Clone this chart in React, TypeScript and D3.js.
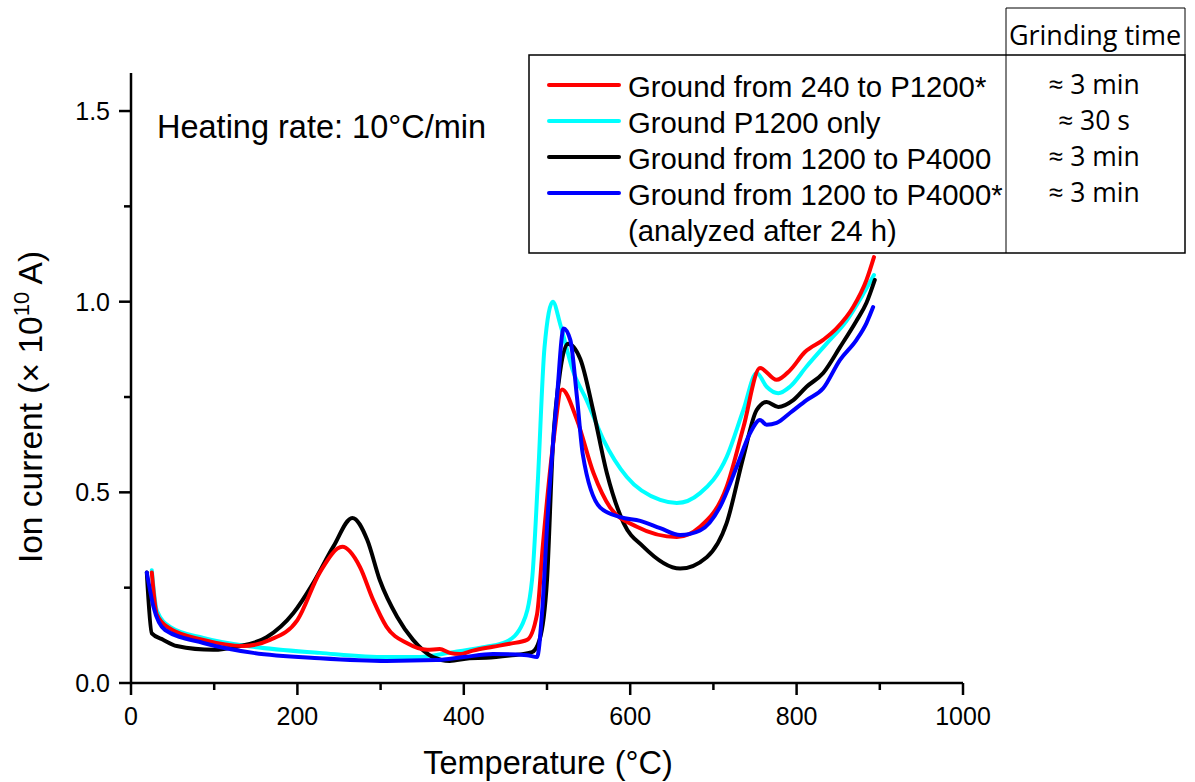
import React from "react";
import * as d3 from "d3";

type P = [number, number];

const redData: P[] = [
  [25, 0.29], [31, 0.18], [45, 0.145], [87, 0.113], [135, 0.097], [167, 0.113], [200, 0.165],
  [227, 0.29], [254, 0.357], [275, 0.305], [291, 0.218], [307, 0.148], [332, 0.104], [356, 0.087],
  [371, 0.089], [383, 0.079], [395, 0.076], [411, 0.085], [435, 0.095], [455, 0.103], [476, 0.113], [488, 0.18],
  [495, 0.36], [507, 0.62], [518, 0.77], [536, 0.69], [556, 0.55], [576, 0.46], [608, 0.41],
  [656, 0.383], [684, 0.41], [716, 0.515], [736, 0.67], [756, 0.826], [776, 0.795], [792, 0.82],
  [810, 0.868], [832, 0.9], [848, 0.93], [868, 0.986], [884, 1.057], [893, 1.117],
];

const cyanData: P[] = [
  [25, 0.296], [31, 0.19], [47, 0.147], [87, 0.118], [147, 0.095], [227, 0.079], [307, 0.068],
  [347, 0.068], [387, 0.081], [427, 0.095], [451, 0.108], [471, 0.157], [482, 0.27], [489, 0.53],
  [497, 0.88], [507, 1.0], [516, 0.94], [531, 0.82], [548, 0.74], [568, 0.637], [596, 0.54],
  [636, 0.48], [656, 0.472], [684, 0.498], [716, 0.593], [736, 0.716], [752, 0.813], [764, 0.777],
  [778, 0.76], [792, 0.777], [812, 0.83], [836, 0.89], [860, 0.95], [880, 1.02], [893, 1.07],
];

const blackData: P[] = [
  [19, 0.29], [25, 0.13], [39, 0.113], [55, 0.097], [99, 0.087], [127, 0.095], [163, 0.12],
  [195, 0.183], [219, 0.262], [243, 0.357], [266, 0.433], [284, 0.375], [299, 0.27], [320, 0.173],
  [339, 0.113], [363, 0.068], [383, 0.058], [407, 0.065], [427, 0.066], [455, 0.072], [482, 0.081], [491, 0.113],
  [500, 0.27], [507, 0.62], [516, 0.82], [525, 0.89], [540, 0.85], [556, 0.71], [572, 0.55],
  [592, 0.42], [616, 0.357], [660, 0.3], [692, 0.33], [716, 0.42], [736, 0.593], [752, 0.716],
  [764, 0.737], [778, 0.724], [796, 0.742], [812, 0.777], [832, 0.813], [852, 0.88], [872, 0.95],
  [884, 0.997], [894, 1.057],
];

const blueData: P[] = [
  [19, 0.29], [27, 0.2], [41, 0.139], [87, 0.105], [147, 0.079], [227, 0.065], [307, 0.058],
  [367, 0.06], [400, 0.068], [435, 0.076], [476, 0.073], [488, 0.068], [494, 0.183], [501, 0.445],
  [512, 0.75], [520, 0.93], [528, 0.9], [536, 0.75], [543, 0.6], [564, 0.46], [588, 0.435],
  [612, 0.425], [636, 0.406], [660, 0.388], [684, 0.4], [708, 0.462], [728, 0.567], [744, 0.655],
  [756, 0.69], [764, 0.677], [776, 0.682], [792, 0.708], [812, 0.742], [832, 0.773], [852, 0.847],
  [872, 0.9], [884, 0.944], [892, 0.986],
];

const seriesNames = [
  "Ground from 240 to P1200*",
  "Ground P1200 only",
  "Ground from 1200 to P4000",
  "Ground from 1200 to P4000*",
];
const seriesColors = ["#ff0000", "#00ffff", "#000000", "#0000ff"];
const grindingTimes = ["≈ 3 min", "≈ 30 s", "≈ 3 min", "≈ 3 min"];
const xTicks = [0, 200, 400, 600, 800, 1000];
const xMinor = [100, 300, 500, 700, 900];
const yTicks = [0, 0.5, 1.0, 1.5];
const yMinor = [0.25, 0.75, 1.25];

const W = 1195;
const H = 782;
const F = "'Liberation Sans', Arial, sans-serif";
const F2 = "'Open Sans', sans-serif";

export default function App() {
  const x = d3.scaleLinear().domain([0, 1000]).range([131, 963]);
  const y = d3.scaleLinear().domain([0, 1.6]).range([683, 72.9]);
  const line = d3
    .line<P>()
    .x((d) => x(d[0]))
    .y((d) => y(d[1]))
    .curve(d3.curveMonotoneX);
  const drawOrder = [
    { d: cyanData, c: seriesColors[1] },
    { d: blackData, c: seriesColors[2] },
    { d: redData, c: seriesColors[0] },
    { d: blueData, c: seriesColors[3] },
  ];
  const rowBase = [97, 133, 169, 205];
  return (
    <svg width={W} height={H} style={{ position: "absolute", left: 0, top: 0, background: "#fff" }}>
      <rect x={0} y={0} width={W} height={H} fill="#fff" />
      {drawOrder.map((s, i) => (
        <path key={i} d={line(s.d) || ""} fill="none" stroke={s.c} strokeWidth={4} strokeLinejoin="round" strokeLinecap="round" />
      ))}
      {/* axes */}
      <line x1={131} x2={131} y1={y(1.6)} y2={683} stroke="#000" strokeWidth={2.5} />
      <line x1={131} x2={963} y1={683} y2={683} stroke="#000" strokeWidth={2.5} />
      {xTicks.map((t) => (
        <g key={"x" + t}>
          <line x1={x(t)} x2={x(t)} y1={683} y2={695} stroke="#000" strokeWidth={2.5} />
          <text x={x(t)} y={725} textAnchor="middle" fontFamily={F} fontSize={25}>{t}</text>
        </g>
      ))}
      {xMinor.map((t) => (
        <line key={"xm" + t} x1={x(t)} x2={x(t)} y1={683} y2={690} stroke="#000" strokeWidth={2.5} />
      ))}
      {yTicks.map((t) => (
        <g key={"y" + t}>
          <line x1={119} x2={131} y1={y(t)} y2={y(t)} stroke="#000" strokeWidth={2.5} />
          <text x={110} y={y(t) + 9} textAnchor="end" fontFamily={F} fontSize={25}>{t.toFixed(1)}</text>
        </g>
      ))}
      {yMinor.map((t) => (
        <line key={"ym" + t} x1={124} x2={131} y1={y(t)} y2={y(t)} stroke="#000" strokeWidth={2.5} />
      ))}
      <text x={548} y={774} textAnchor="middle" fontFamily={F} fontSize={32.5}>Temperature (°C)</text>
      <text transform="translate(42,407) rotate(-90)" textAnchor="middle" fontFamily={F} fontSize={33.5}>
        Ion current (× 10<tspan dy={-13} fontSize={22}>10</tspan><tspan dy={13}> A)</tspan>
      </text>
      <text x={157} y={138} fontFamily={F} fontSize={32.5}>Heating rate: 10°C/min</text>
      {/* legend table */}
      <rect x={529} y={55} width={656} height={198} fill="#fff" stroke="#000" strokeWidth={1.5} />
      <line x1={1006} x2={1006} y1={8} y2={253} stroke="#000" strokeWidth={1} />
      <line x1={1006} x2={1185} y1={8} y2={8} stroke="#000" strokeWidth={1} />
      <line x1={1185} x2={1185} y1={8} y2={55} stroke="#000" strokeWidth={1} />
      <text x={1095} y={45} textAnchor="middle" fontFamily={F2} fontSize={27}>Grinding time</text>
      {seriesNames.map((n, i) => (
        <g key={n}>
          <line x1={549} x2={619} y1={rowBase[i] - 12} y2={rowBase[i] - 12} stroke={seriesColors[i]} strokeWidth={4} strokeLinecap="round" />
          <text x={628} y={rowBase[i]} fontFamily={F} fontSize={29.3}>{n}</text>
          <text x={1094} y={rowBase[i] - 3} textAnchor="middle" fontFamily={F2} fontSize={26.5}>{grindingTimes[i]}</text>
        </g>
      ))}
      <text x={628} y={rowBase[3] + 36} fontFamily={F} fontSize={29.3}>(analyzed after 24 h)</text>
    </svg>
  );
}
